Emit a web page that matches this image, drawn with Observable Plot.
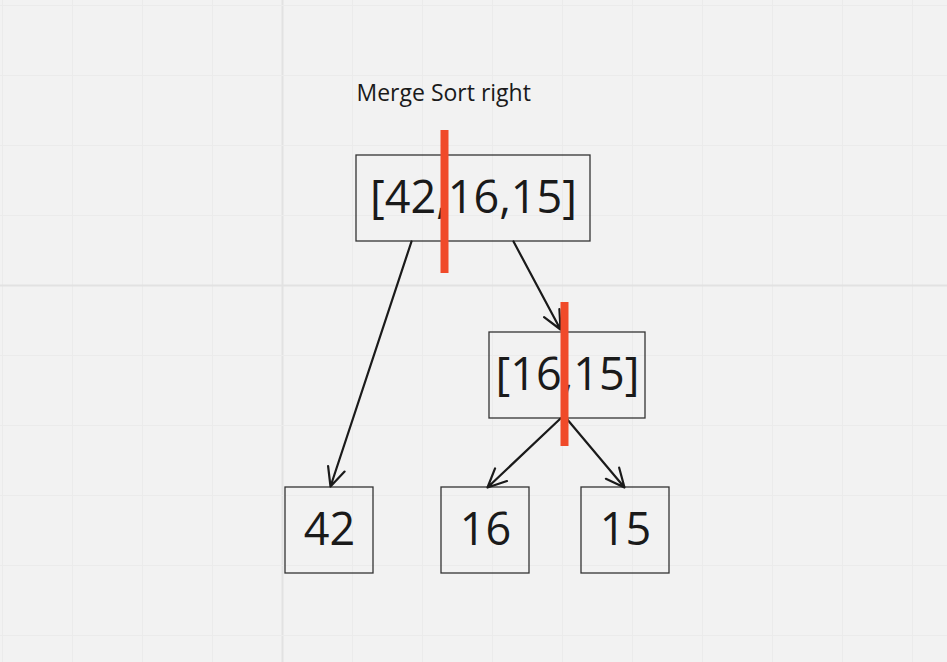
<!DOCTYPE html>
<html><head><meta charset="utf-8">
<script src="https://cdn.jsdelivr.net/npm/d3@7"></script>
<script src="https://cdn.jsdelivr.net/npm/@observablehq/plot@0.6"></script>
<style>body{margin:0;background:#f2f2f2}</style>
</head><body><div id="chart"></div>
<script>
// diagram nodes: label and box corners in page pixels
const labels = ['[42,16,15]', '[16,15]', '42', '16', '15']
const x1s = [356, 489, 285, 441, 581]
const x2s = [590, 645, 373, 529, 669]
const y1s = [155, 332, 487, 487, 487]
const y2s = [241, 418, 573, 573, 573]
// arrows
const ax1 = [411, 513, 560, 566], ay1 = [241, 241, 418, 418]
const ax2 = [330, 560, 487, 624], ay2 = [486, 329, 487, 487]
// red split markers
const splitX = [444, 564], splitY1 = [130, 302], splitY2 = [273, 446]
const gridX = d3.range(2, 947, 70), gridY = d3.range(5, 662, 70)

const nodes = labels.map((l, i) => ({l, x1: x1s[i], x2: x2s[i], y1: y1s[i], y2: y2s[i]}))
const arrows = ax1.map((d, i) => ({x1: d, y1: ay1[i], x2: ax2[i], y2: ay2[i]}))
const splits = splitX.map((x, i) => ({x, y1: splitY1[i], y2: splitY2[i]}))
const major = (d, i) => i === 4

const chart = Plot.plot({
  width: 947, height: 662, margin: 0,
  x: {domain: [0, 947], axis: null},
  y: {domain: [0, 662], reverse: true, axis: null},
  style: {background: '#f2f2f2', fontFamily: '"Open Sans", sans-serif'},
  marks: [
    Plot.ruleX(gridX, {stroke: (d, i) => major(d, i) ? '#e2e2e2' : '#ebebeb', strokeWidth: (d, i) => major(d, i) ? 2 : 1}),
    Plot.ruleY(gridY, {stroke: (d, i) => major(d, i) ? '#e2e2e2' : '#ebebeb', strokeWidth: (d, i) => major(d, i) ? 2 : 1}),
    Plot.rect(nodes, {x1: 'x1', x2: 'x2', y1: 'y1', y2: 'y2', fill: 'none', stroke: '#333', strokeWidth: 1.3}),
    Plot.text(nodes, {x: d => (d.x1 + d.x2) / 2, y: d => (d.y1 + d.y2) / 2, text: 'l', fontSize: 45, fill: '#1a1a1a'}),
    Plot.arrow(arrows, {x1: 'x1', y1: 'y1', x2: 'x2', y2: 'y2', stroke: '#1a1a1a', strokeWidth: 2.2, headLength: 14, headAngle: 50}),
    Plot.ruleX(splits, {x: 'x', y1: 'y1', y2: 'y2', stroke: '#f04a2a', strokeWidth: 8}),
    Plot.text(['Merge Sort right'], {x: 356, y: 93, text: d => d, textAnchor: 'start', fontSize: 23, fill: '#1a1a1a'})
  ]
})
document.getElementById('chart').append(chart)
</script></body></html>
